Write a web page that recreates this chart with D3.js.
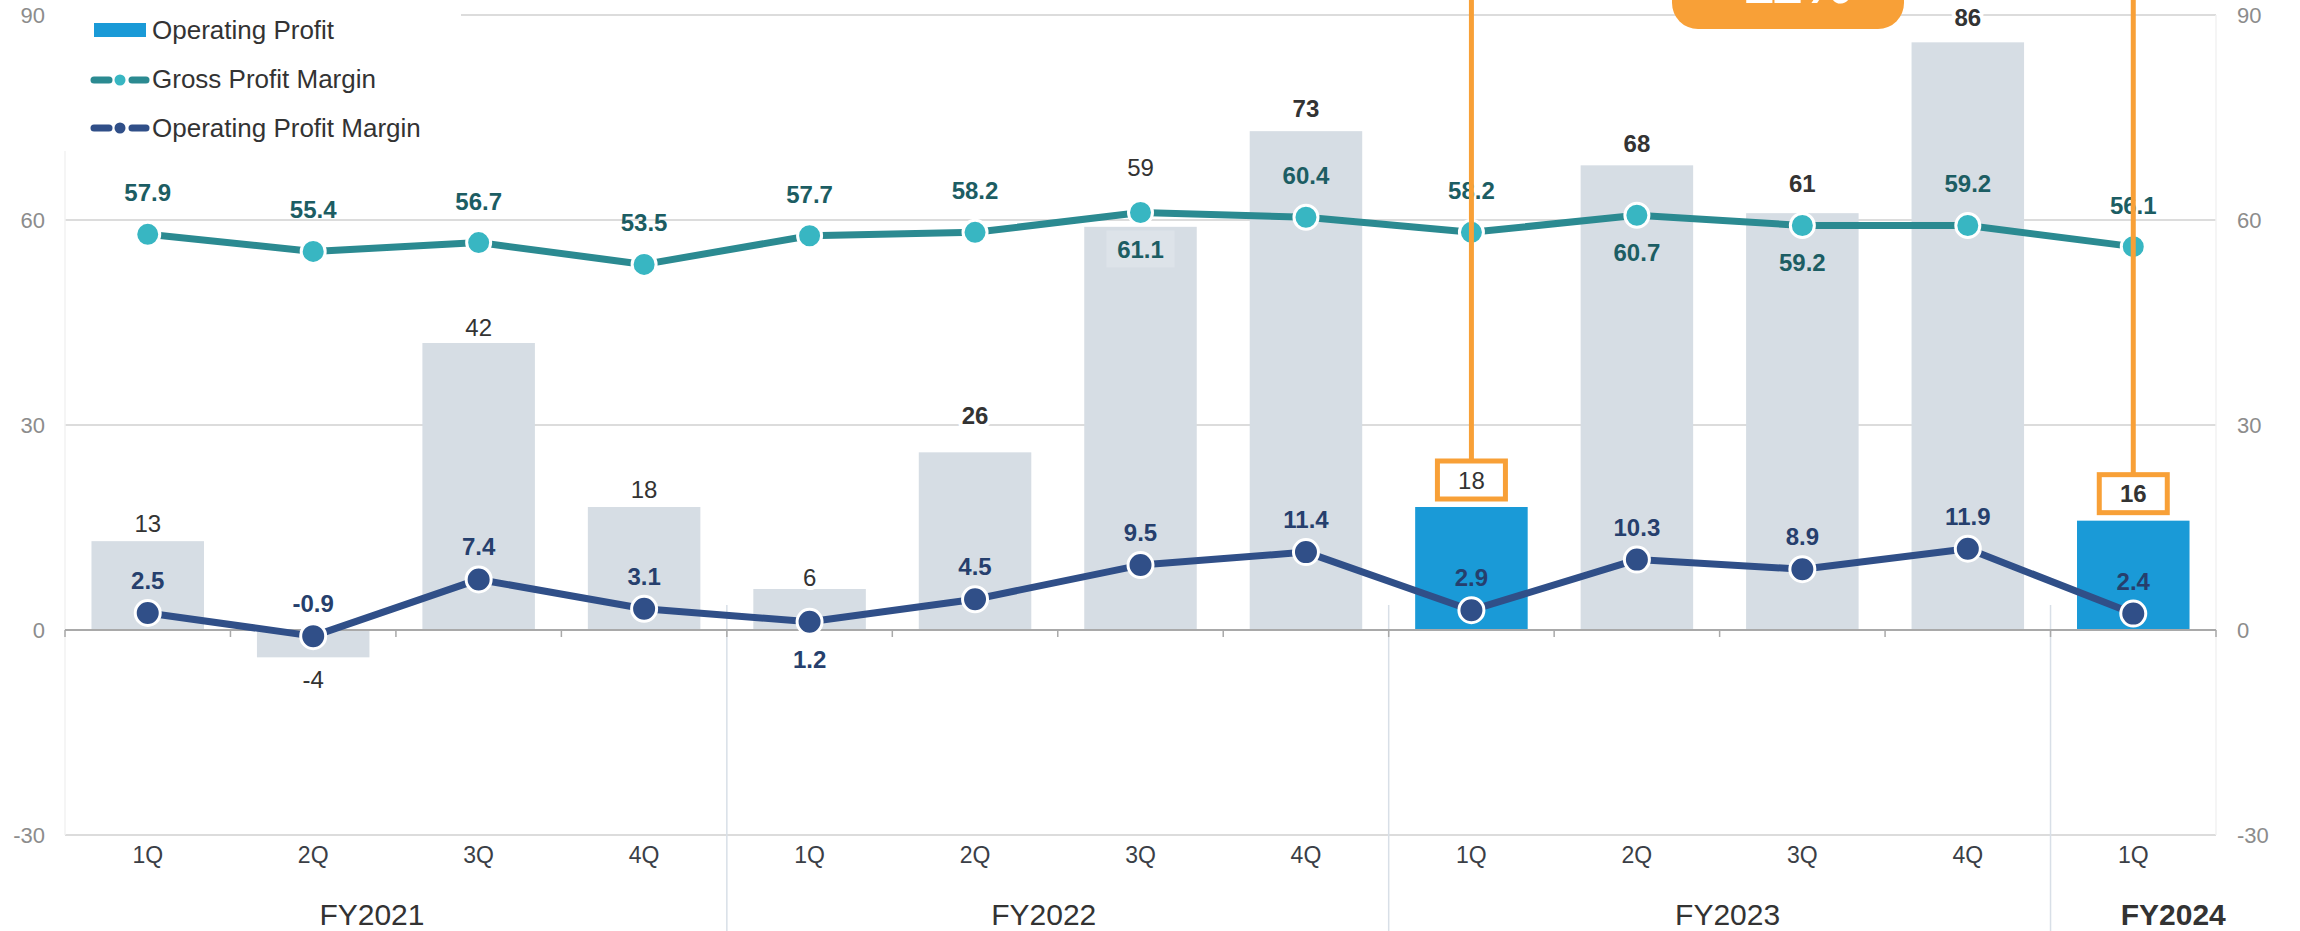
<!DOCTYPE html>
<html>
<head>
<meta charset="utf-8">
<script src="https://cdn.jsdelivr.net/npm/d3@7"></script>
<style>
  html, body { margin: 0; padding: 0; background: #ffffff; }
  svg { display: block; font-family: "Liberation Sans", Arial, sans-serif; }
</style>
</head>
<body>
<svg id="chart" width="2300" height="931"></svg>
<script>
// Quarterly operating profit with gross / operating profit margins
const quarters = ["1Q", "2Q", "3Q", "4Q", "1Q", "2Q", "3Q", "4Q", "1Q", "2Q", "3Q", "4Q", "1Q"];
const fiscalYears = ["FY2021", "FY2022", "FY2023", "FY2024"];
const fiscalYearOfQuarter = [0, 0, 0, 0, 1, 1, 1, 1, 2, 2, 2, 2, 3];
const operatingProfit = [13, -4, 42, 18, 6, 26, 59, 73, 18, 68, 61, 86, 16];
const grossProfitMargin = [57.9, 55.4, 56.7, 53.5, 57.7, 58.2, 61.1, 60.4, 58.2, 60.7, 59.2, 59.2, 56.1];
const operatingProfitMargin = [2.5, -0.9, 7.4, 3.1, 1.2, 4.5, 9.5, 11.4, 2.9, 10.3, 8.9, 11.9, 2.4];
const yTicks = [-30, 0, 30, 60, 90];
const legendLabels = ["Operating Profit", "Gross Profit Margin", "Operating Profit Margin"];
const highlighted = [8, 12];           // quarters compared year on year
const calloutText = "-11%";

const C = {
  bar: "#d6dde4", barHi: "#1a9ad7",
  gpmLine: "#2b8a91", gpmDot: "#38b6c2", gpmText: "#1c5d63",
  opmLine: "#304f88", opmText: "#263f6d",
  orange: "#f8a037", grid: "#dcdcdc", axis: "#a9a9a9",
  divider: "#d8dfe7", tick: "#8c8c8c", text: "#333333", cat: "#3a3e46"
};

const svg = d3.select("#chart");
const left = 65, right = 2216;

const x = d3.scaleBand().domain(d3.range(quarters.length)).range([left, right]).padding(0);
const y = d3.scaleLinear().domain([-30, 90]).range([835, 15]);
const cx = i => x(i) + x.bandwidth() / 2;
const barW = x.bandwidth() * 0.68;

// horizontal gridlines
svg.append("g").selectAll("line").data(yTicks.filter(t => t !== 0)).join("line")
  .attr("x1", left).attr("x2", right)
  .attr("y1", d => y(d)).attr("y2", d => y(d))
  .attr("stroke", C.grid).attr("stroke-width", 2);

// faint plot borders
svg.append("g").selectAll("line").data([left, right]).join("line")
  .attr("x1", d => d).attr("x2", d => d).attr("y1", y(90)).attr("y2", y(-30))
  .attr("stroke", "#f2f2f2").attr("stroke-width", 1.5);

// y axis labels on both sides
const yl = svg.append("g").attr("font-size", 22).attr("fill", C.tick);
yl.selectAll("text.l").data(yTicks).join("text").attr("class", "l")
  .attr("x", 45).attr("y", d => y(d)).attr("dy", "0.35em").attr("text-anchor", "end").text(d => d);
yl.selectAll("text.r").data(yTicks).join("text").attr("class", "r")
  .attr("x", 2237).attr("y", d => y(d)).attr("dy", "0.35em").attr("text-anchor", "start").text(d => d);

// operating profit bars
svg.append("g").selectAll("rect").data(operatingProfit).join("rect")
  .attr("x", (d, i) => cx(i) - barW / 2)
  .attr("width", barW)
  .attr("y", d => y(Math.max(0, d)))
  .attr("height", d => Math.abs(y(d) - y(0)))
  .attr("fill", (d, i) => highlighted.includes(i) ? C.barHi : C.bar);

// fiscal year dividers
const boundaries = d3.range(1, quarters.length).filter(i => fiscalYearOfQuarter[i] !== fiscalYearOfQuarter[i - 1]);
svg.append("g").selectAll("line").data(boundaries).join("line")
  .attr("x1", i => x(i)).attr("x2", i => x(i)).attr("y1", 605).attr("y2", 931)
  .attr("stroke", C.divider).attr("stroke-width", 1.5);

// zero axis with ticks at band edges
const axisG = svg.append("g").attr("transform", `translate(0,${y(0)})`);
axisG.append("line").attr("x1", left).attr("x2", right).attr("stroke", C.axis).attr("stroke-width", 2);
axisG.selectAll("line.t").data(d3.range(quarters.length + 1)).join("line").attr("class", "t")
  .attr("x1", i => left + i * x.bandwidth()).attr("x2", i => left + i * x.bandwidth())
  .attr("y1", 0).attr("y2", 7).attr("stroke", C.axis).attr("stroke-width", 1.5);

// quarter labels
svg.append("g").selectAll("text").data(quarters).join("text")
  .attr("x", (d, i) => cx(i)).attr("y", 863).attr("text-anchor", "middle")
  .attr("font-size", 23).attr("fill", C.cat).text(d => d);

// fiscal year labels, centred on their quarters
const fyNudge = [-24, -14, 8, 40];
svg.append("g").selectAll("text").data(fiscalYears).join("text")
  .attr("x", (d, k) => {
    const idx = d3.range(quarters.length).filter(i => fiscalYearOfQuarter[i] === k);
    return (x(idx[0]) + x(idx[idx.length - 1]) + x.bandwidth()) / 2 + fyNudge[k];
  })
  .attr("y", 925).attr("text-anchor", "middle").attr("font-size", 30)
  .attr("font-weight", (d, k) => k === fiscalYears.length - 1 ? "bold" : "normal")
  .attr("fill", C.text).text(d => d);

// margin lines
const line = vals => d3.line().x((d, i) => cx(i)).y(d => y(d))(vals);
svg.append("path").attr("d", line(grossProfitMargin)).attr("fill", "none")
  .attr("stroke", C.gpmLine).attr("stroke-width", 7).attr("stroke-linejoin", "round");
svg.append("path").attr("d", line(operatingProfitMargin)).attr("fill", "none")
  .attr("stroke", C.opmLine).attr("stroke-width", 7).attr("stroke-linejoin", "round");

svg.append("g").selectAll("circle").data(grossProfitMargin).join("circle")
  .attr("cx", (d, i) => cx(i)).attr("cy", d => y(d)).attr("r", 12)
  .attr("fill", C.gpmDot).attr("stroke", "#fff").attr("stroke-width", 3);
svg.append("g").selectAll("circle").data(operatingProfitMargin).join("circle")
  .attr("cx", (d, i) => cx(i)).attr("cy", d => y(d)).attr("r", 12.5)
  .attr("fill", C.opmLine).attr("stroke", "#fff").attr("stroke-width", 3);

// bar value labels
const boldBar = new Set([5, 7, 9, 10, 11, 12]);
const barGap = [8, 0, 6, 8, 2, 27, 0, 13, 0, 12, 20, 15, 0];
const barLabels = svg.append("g").attr("font-size", 24).attr("text-anchor", "middle");
operatingProfit.forEach((v, i) => {
  if (highlighted.includes(i)) return;
  let ty;
  if (i === 6) ty = y(grossProfitMargin[i]) - 36;          // lifted above the margin dot
  else if (v < 0) ty = y(v) + 31;
  else ty = y(v) - barGap[i] - 1;
  barLabels.append("text").attr("x", cx(i)).attr("y", ty)
    .attr("font-weight", boldBar.has(i) ? "bold" : "normal")
    .attr("fill", C.text).attr("stroke", "#fff").attr("stroke-width", 8)
    .attr("paint-order", "stroke").attr("stroke-linejoin", "round").text(v);
});

// margin value labels
const gpmBelow = new Set([6, 9, 10]);
const gl = svg.append("g").attr("font-size", 24).attr("font-weight", "bold").attr("text-anchor", "middle");
grossProfitMargin.forEach((v, i) => {
  const py = y(v);
  const ty = gpmBelow.has(i) ? py + 46 : py - 33;
  if (i === 6) {
    gl.append("rect").attr("x", cx(i) - 34).attr("y", py + 18).attr("width", 68).attr("height", 37)
      .attr("fill", "#dde3e9");
  }
  gl.append("text").attr("x", cx(i)).attr("y", ty).attr("fill", C.gpmText).text(v.toFixed(1));
});
const ol = svg.append("g").attr("font-size", 24).attr("font-weight", "bold").attr("text-anchor", "middle");
operatingProfitMargin.forEach((v, i) => {
  const py = y(v);
  const ty = i === 4 ? py + 46 : py - 24;
  ol.append("text").attr("x", cx(i)).attr("y", ty).attr("fill", C.opmText).text(v.toFixed(1));
});

// year-on-year comparison: boxed labels joined by orange leaders
highlighted.forEach(i => {
  const v = operatingProfit[i];
  const top = y(v);
  const bx = cx(i) - 34, bw = 68, bh = 38, by = top - 8 - bh;
  svg.append("line").attr("x1", cx(i)).attr("x2", cx(i)).attr("y1", -5).attr("y2", by)
    .attr("stroke", C.orange).attr("stroke-width", 5);
  svg.append("rect").attr("x", bx).attr("y", by).attr("width", bw).attr("height", bh)
    .attr("fill", "#fff").attr("stroke", C.orange).attr("stroke-width", 5);
  svg.append("text").attr("x", cx(i)).attr("y", by + bh / 2).attr("dy", "0.36em")
    .attr("text-anchor", "middle").attr("font-size", 24)
    .attr("font-weight", i === 12 ? "bold" : "normal").attr("fill", C.text).text(v);
});

// callout badge at the top
const badge = svg.append("g");
badge.append("rect").attr("x", 1672).attr("y", -60).attr("width", 232).attr("height", 89)
  .attr("rx", 26).attr("fill", C.orange);
badge.append("text").attr("x", 1788).attr("y", 3).attr("text-anchor", "middle")
  .attr("font-size", 56).attr("font-weight", "bold").attr("fill", "#fff").text(calloutText);

// legend
const lg = svg.append("g");
lg.append("rect").attr("x", 55).attr("y", 0).attr("width", 406).attr("height", 151).attr("fill", "#fff");
lg.append("rect").attr("x", 94).attr("y", 23).attr("width", 52).attr("height", 14).attr("fill", C.barHi);
[[C.gpmLine, C.gpmDot, 80], [C.opmLine, C.opmLine, 128]].forEach(([lc, dc, ly]) => {
  lg.append("line").attr("x1", 94).attr("x2", 109).attr("y1", ly).attr("y2", ly)
    .attr("stroke", lc).attr("stroke-width", 7).attr("stroke-linecap", "round");
  lg.append("line").attr("x1", 132).attr("x2", 146).attr("y1", ly).attr("y2", ly)
    .attr("stroke", lc).attr("stroke-width", 7).attr("stroke-linecap", "round");
  lg.append("circle").attr("cx", 120).attr("cy", ly).attr("r", 5.5).attr("fill", dc);
});
lg.selectAll("text").data(legendLabels).join("text")
  .attr("x", 152).attr("y", (d, i) => 39 + i * 49).attr("font-size", 26).attr("fill", C.text).text(d => d);
</script>
</body>
</html>
